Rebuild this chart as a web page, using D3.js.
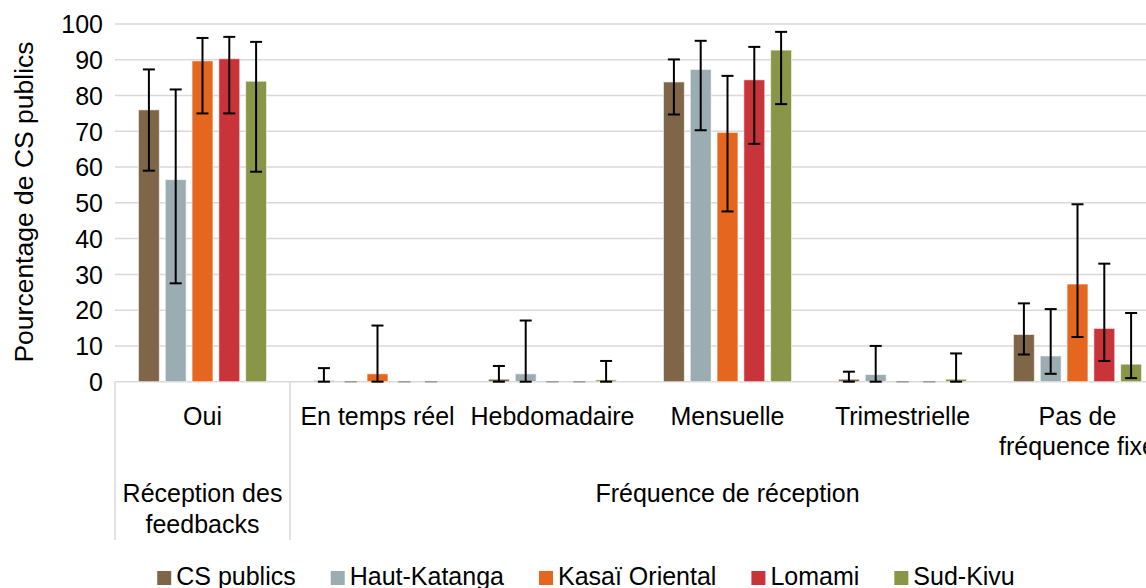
<!DOCTYPE html>
<html>
<head>
<meta charset="utf-8">
<script src="https://cdn.jsdelivr.net/npm/d3@7"></script>
<style>
  html, body { margin: 0; padding: 0; background: #fff; }
  svg { display: block; }
  text { font-family: "Liberation Sans", Arial, sans-serif; fill: #000; }
</style>
</head>
<body>
<svg id="chart" width="1146" height="588"></svg>
<script>
// ---- Data ----
const categories = ["Oui", "En temps réel", "Hebdomadaire", "Mensuelle", "Trimestrielle", "Pas de fréquence fixe"];
const categoryLines = [["Oui"], ["En temps réel"], ["Hebdomadaire"], ["Mensuelle"], ["Trimestrielle"], ["Pas de", "fréquence fixe"]];
const groupLabels = [["Réception des", "feedbacks"], ["Fréquence de réception"]];
const groupSpans = [1, 5];
const seriesNames = ["CS publics", "Haut-Katanga", "Kasaï Oriental", "Lomami", "Sud-Kivu"];
const seriesColors = ["#7F6648", "#9BADB2", "#E5661F", "#C8343A", "#8A9647"];

const csPublics     = [76.0, 0.3, 0.7, 83.8, 0.7, 13.2];
const csPublicsLow  = [59.0, 0.0, 0.0, 74.7, 0.0, 7.6];
const csPublicsHigh = [87.3, 3.8, 4.4, 90.1, 2.8, 21.9];

const hautKatanga     = [56.5, 0.0, 2.2, 87.3, 2.0, 7.2];
const hautKatangaLow  = [27.5, 0.0, 0.0, 70.3, 0.0, 2.2];
const hautKatangaHigh = [81.7, 0.0, 17.1, 95.3, 10.0, 20.3];

const kasaiOriental     = [89.7, 2.2, 0.0, 69.7, 0.0, 27.3];
const kasaiOrientalLow  = [75.0, 0.0, 0.0, 47.6, 0.0, 12.5];
const kasaiOrientalHigh = [96.1, 15.7, 0.0, 85.5, 0.0, 49.6];

const lomami     = [90.3, 0.0, 0.0, 84.4, 0.0, 14.9];
const lomamiLow  = [75.0, 0.0, 0.0, 66.5, 0.0, 5.8];
const lomamiHigh = [96.4, 0.0, 0.0, 93.6, 0.0, 33.0];

const sudKivu     = [84.0, 0.0, 0.5, 92.7, 0.7, 4.9];
const sudKivuLow  = [58.7, 0.0, 0.0, 77.6, 0.0, 1.0];
const sudKivuHigh = [95.0, 0.0, 5.8, 97.8, 7.9, 19.2];

const yTicks = [0, 10, 20, 30, 40, 50, 60, 70, 80, 90, 100];
const yTitle = "Pourcentage de CS publics";

// ---- Build ----
const seriesVals = [csPublics, hautKatanga, kasaiOriental, lomami, sudKivu];
const seriesLow = [csPublicsLow, hautKatangaLow, kasaiOrientalLow, lomamiLow, sudKivuLow];
const seriesHigh = [csPublicsHigh, hautKatangaHigh, kasaiOrientalHigh, lomamiHigh, sudKivuHigh];

const svg = d3.select("#chart");
const FS = 25;
const plotLeft = 115, plotRight = 1165, y0 = 381.7, y100 = 24;

const x0 = d3.scaleBand().domain(categories).range([plotLeft, plotRight]).paddingInner(0).paddingOuter(0);
const x1 = d3.scaleBand().domain(seriesNames).range([0, x0.bandwidth()]).paddingInner(0.22).paddingOuter(0.875);
const y = d3.scaleLinear().domain([0, 100]).range([y0, y100]);

// gridlines
svg.append("g").selectAll("line").data(yTicks).join("line")
  .attr("x1", plotLeft).attr("x2", 1146)
  .attr("y1", d => y(d)).attr("y2", d => y(d))
  .attr("stroke", "#d9d9d9").attr("stroke-width", 1.5);

// y axis labels
const yAxis = d3.axisLeft(y).tickValues(yTicks).tickSize(0).tickPadding(0);
const yg = svg.append("g").attr("transform", `translate(${plotLeft - 12},0)`).call(yAxis);
yg.select(".domain").remove();
yg.selectAll("text").attr("font-size", FS).attr("font-family", '"Liberation Sans", Arial, sans-serif').attr("fill", "#000").attr("dy", "0.35em");

// y title
svg.append("text")
  .attr("transform", `translate(33,202) rotate(-90)`)
  .attr("text-anchor", "middle").attr("font-size", 26.5)
  .text(yTitle);

// bars
const rows = [];
seriesNames.forEach((s, si) => categories.forEach((c, ci) => rows.push({
  s, c, si, ci, v: seriesVals[si][ci], lo: seriesLow[si][ci], hi: seriesHigh[si][ci]
})));

svg.append("g").selectAll("rect").data(rows.filter(d => d.v > 0)).join("rect")
  .attr("x", d => x0(d.c) + x1(d.s))
  .attr("width", x1.bandwidth())
  .attr("y", d => y(d.v))
  .attr("height", d => y(0) - y(d.v))
  .attr("fill", d => seriesColors[d.si])
  .attr("stroke", "rgba(255,255,255,0.6)").attr("stroke-width", 1);

// error bars
const capW = 12;
const eb = svg.append("g");
rows.forEach(d => {
  const cx = x0(d.c) + x1(d.s) + x1.bandwidth() / 2;
  const zero = d.hi === d.lo;
  const col = zero ? "#9a9a9a" : "#000";
  const sw = zero ? 1.2 : 2;
  if (!zero) {
    eb.append("line").attr("x1", cx).attr("x2", cx).attr("y1", y(d.lo)).attr("y2", y(d.hi))
      .attr("stroke", col).attr("stroke-width", sw);
  }
  [d.lo, d.hi].forEach(v => {
    eb.append("line").attr("x1", cx - capW / 2).attr("x2", cx + capW / 2)
      .attr("y1", y(v)).attr("y2", y(v)).attr("stroke", col).attr("stroke-width", sw);
  });
});

// category axis separators
const sepBottom = 540;
let acc = 0;
const boundaries = [0];
groupSpans.forEach(n => { acc += n; boundaries.push(acc); });
boundaries.forEach(b => {
  const xx = b < categories.length ? x0(categories[b]) : plotRight;
  svg.append("line").attr("x1", xx).attr("x2", xx).attr("y1", y0).attr("y2", sepBottom)
    .attr("stroke", "#d9d9d9").attr("stroke-width", 1.5);
});

// category labels
categories.forEach((c, ci) => {
  const cx = x0(c) + x0.bandwidth() / 2;
  const lines = categoryLines[ci];
  const t = svg.append("text").attr("text-anchor", "middle").attr("font-size", FS);
  lines.forEach((ln, li) => t.append("tspan").attr("x", cx).attr("y", 425 + li * 30).text(ln));
});

// group labels
let start = 0;
groupSpans.forEach((n, gi) => {
  const xa = x0(categories[start]);
  const xb = x0(categories[start + n - 1]) + x0.bandwidth();
  const cx = (xa + xb) / 2;
  const t = svg.append("text").attr("text-anchor", "middle").attr("font-size", FS);
  groupLabels[gi].forEach((ln, li) => t.append("tspan").attr("x", cx).attr("y", 502 + li * 31).text(ln));
  start += n;
});

// legend
const lg = svg.append("g");
let lx = 0;
seriesNames.forEach((s, si) => {
  const g = lg.append("g");
  g.append("rect").attr("x", 0).attr("y", -14).attr("width", 14).attr("height", 14).attr("fill", seriesColors[si]);
  const t = g.append("text").attr("x", 19).attr("y", 0).attr("font-size", FS).text(s);
  const w = 19 + t.node().getComputedTextLength();
  g.attr("transform", `translate(${lx},0)`);
  lx += w + 35;
});
const totalW = lx - 35;
lg.attr("transform", `translate(${586 - totalW / 2},585)`);
</script>
</body>
</html>
